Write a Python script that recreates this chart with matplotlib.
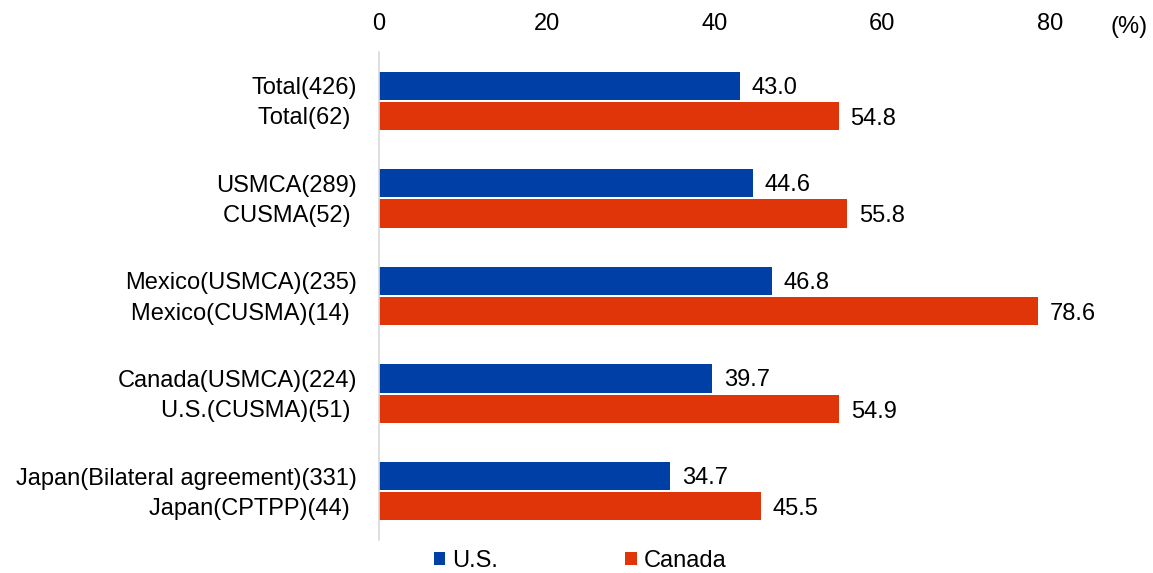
import matplotlib.pyplot as plt
import numpy as np

plt.rcParams["font.family"] = ["Liberation Sans", "DejaVu Sans"]

us_labels = ["Total(426)", "USMCA(289)", "Mexico(USMCA)(235)",
             "Canada(USMCA)(224)", "Japan(Bilateral agreement)(331)"]
ca_labels = ["Total(62) ", "CUSMA(52) ", "Mexico(CUSMA)(14) ",
             "U.S.(CUSMA)(51) ", "Japan(CPTPP)(44) "]
us_values = [43.0, 44.6, 46.8, 39.7, 34.7]
ca_values = [54.8, 55.8, 78.6, 54.9, 45.5]
x_ticks = [0, 20, 40, 60, 80]

blue = "#0040a6"
red = "#e03508"
fs = 17

fig = plt.figure(figsize=(11.53, 5.73), dpi=100)
ax = fig.add_axes([379 / 1153, 33 / 573, 671 / 1153, 488 / 573])

n = len(us_values)
centers = np.arange(n)
h = 0.29
us_pos = centers - h / 2 - 0.01
ca_pos = centers + h / 2 + 0.01

ax.barh(us_pos, us_values, height=h, color=blue, label="U.S.")
ax.barh(ca_pos, ca_values, height=h, color=red, label="Canada")

for y, v in zip(us_pos, us_values):
    ax.text(v + 1.4, y + 0.02, f"{v:.1f}", va="center", ha="left", fontsize=fs)
for y, v in zip(ca_pos, ca_values):
    ax.text(v + 1.4, y + 0.03, f"{v:.1f}", va="center", ha="left",
            fontsize=fs, clip_on=False)

ax.set_xlim(0, 80)
ax.set_ylim(n - 0.5, -0.5)
ax.set_xticks(x_ticks)
ax.xaxis.tick_top()
ax.tick_params(axis="x", length=0, labelsize=fs, pad=12)
ax.text(1.09, 1.0 + 25 / 488, "(%)", transform=ax.transAxes,
        fontsize=fs, ha="left", va="center")

ticks = np.ravel(np.column_stack([us_pos, ca_pos]))
labels = [l for pair in zip(us_labels, ca_labels) for l in pair]
ax.set_yticks(ticks)
ax.set_yticklabels(labels, fontsize=fs)
ax.tick_params(axis="y", length=0, pad=16)

for s in ["top", "right", "bottom"]:
    ax.spines[s].set_visible(False)
ax.spines["left"].set_color("#d9d9d9")
ax.spines["left"].set_linewidth(1.2)

handles, names = ax.get_legend_handles_labels()
fig.legend(handles, names, loc="center", bbox_to_anchor=(580 / 1153, 1 - 561 / 573),
           ncol=2, frameon=False, fontsize=fs, handlelength=0.5,
           handleheight=0.5, handletextpad=0.3, columnspacing=5.35,
           borderaxespad=0, borderpad=0)

fig.savefig("out.png", dpi=100)
